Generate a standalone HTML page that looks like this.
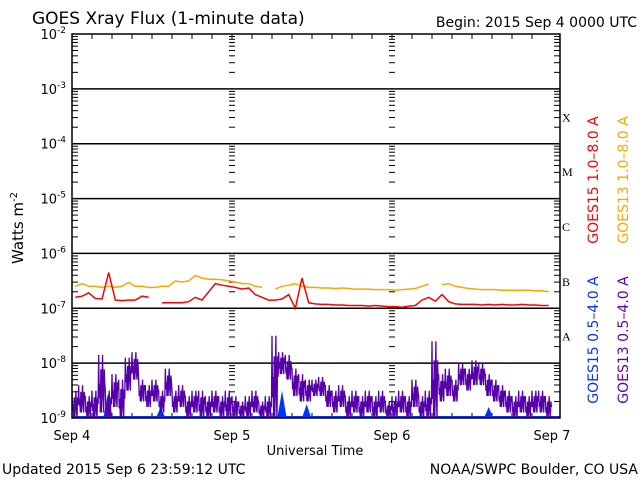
<!DOCTYPE html>
<html><head><meta charset="utf-8"><style>
html,body{margin:0;padding:0;background:#fff;}
svg{display:block;font-family:"DejaVu Sans","Liberation Sans",sans-serif;}
</style></head><body>
<svg id="chart" width="640" height="480" viewBox="0 0 640 480" xmlns="http://www.w3.org/2000/svg">
<rect width="640" height="480" fill="#fff"/>
<text x="32" y="24" font-size="17">GOES Xray Flux (1-minute data)</text>
<text x="637" y="27" font-size="14" text-anchor="end">Begin:  2015 Sep 4 0000 UTC</text>
<text transform="translate(23,228) rotate(-90)" font-size="15" text-anchor="middle">Watts m<tspan font-size="10" dy="-6">-2</tspan></text>
<text x="315" y="455" font-size="13" text-anchor="middle">Universal Time</text>
<text x="2" y="474" font-size="14">Updated 2015 Sep  6 23:59:12 UTC</text>
<text x="638" y="474" font-size="14" text-anchor="end">NOAA/SWPC Boulder, CO USA</text>
<text transform="translate(598,180) rotate(-90)" font-size="14" fill="#ff0000" text-anchor="middle">GOES15 1.0–8.0 A</text>
<text transform="translate(628,180) rotate(-90)" font-size="14" fill="#ffa500" text-anchor="middle">GOES13 1.0–8.0 A</text>
<text transform="translate(598,340) rotate(-90)" font-size="14" fill="#0033ff" text-anchor="middle">GOES15 0.5–4.0 A</text>
<text transform="translate(628,340) rotate(-90)" font-size="14" fill="#6600aa" text-anchor="middle">GOES13 0.5–4.0 A</text>
<g id="g"></g>
</svg>
<script>
const dayLabels=["Sep 4","Sep 5","Sep 6","Sep 7"];
const decadeExps=[-2,-3,-4,-5,-6,-7,-8,-9];
const classLabels=["X","M","C","B","A"];
const classExps=[-3.5,-4.5,-5.5,-6.5,-7.5];
// hourly log10 flux, GOES13 long (orange); null = gap
const g13Long=[-6.6,-6.55,-6.6,-6.6,-6.62,-6.6,-6.62,-6.6,-6.53,-6.6,-6.6,-6.62,-6.62,-6.6,-6.6,-6.5,-6.52,-6.5,-6.4,-6.45,-6.47,-6.47,-6.48,-6.5,-6.52,-6.55,-6.55,-6.6,-6.62,null,-6.65,-6.6,-6.58,-6.55,-6.6,-6.62,-6.62,-6.63,-6.63,-6.64,-6.63,-6.64,-6.65,-6.65,-6.65,-6.66,-6.66,-6.66,-6.67,-6.66,-6.65,-6.64,-6.6,-6.56,null,-6.57,-6.55,-6.6,-6.62,-6.64,-6.65,-6.66,-6.66,-6.66,-6.67,-6.67,-6.67,-6.67,-6.67,-6.68,-6.68,-6.7];
// hourly log10 flux, GOES15 long (red)
const g15Long=[-6.8,-6.78,-6.72,-6.82,-6.83,-6.35,-6.85,-6.86,-6.85,-6.85,-6.78,-6.8,null,-6.9,-6.9,-6.9,-6.9,-6.88,-6.8,-6.85,-6.7,-6.55,-6.58,-6.6,-6.62,-6.65,-6.63,-6.75,-6.8,-6.85,-6.85,-6.83,-6.75,-7.0,-6.45,-6.9,-6.92,-6.93,-6.93,-6.94,-6.94,-6.95,-6.95,-6.95,-6.96,-6.95,-6.96,-6.97,-6.97,-6.98,-6.96,-6.95,-6.85,-6.8,-6.87,-6.75,-6.88,-6.92,-6.93,-6.93,-6.93,-6.94,-6.93,-6.94,-6.93,-6.94,-6.94,-6.93,-6.94,-6.94,-6.95,-6.95];
// hourly high/low log10 flux, GOES13 short (purple)
const g13ShortHi=[-8.5,-8.4,-8.6,-8.5,-7.85,-8.5,-8.2,-8.3,-7.9,-7.8,-8.3,-8.4,-8.3,-8.5,-8.1,-8.5,-8.4,-8.6,-8.5,-8.5,-8.6,-8.5,-8.6,-8.5,-8.6,-8.7,-8.6,-8.5,-8.7,-8.6,-7.5,-7.8,-7.85,-8.1,-8.2,-8.3,-8.3,-8.25,-8.4,-8.5,-8.4,-8.6,-8.5,-8.6,-8.5,-8.6,-8.5,-8.7,-8.6,-8.5,-8.6,-8.3,-8.6,-8.5,-7.6,-8.2,-8.1,-8.3,-8.0,-8.1,-7.95,-8.0,-8.2,-8.3,-8.4,-8.5,-8.6,-8.5,-8.6,-8.5,-8.5,-8.6];
const g13ShortLo=[-9,-8.9,-9,-9,-8.9,-9,-8.8,-9,-8.5,-8.3,-8.7,-8.8,-8.7,-8.9,-8.6,-8.9,-8.8,-9,-8.9,-9,-9,-8.9,-9,-9,-9,-9,-9,-8.9,-9,-9,-9,-8.2,-8.3,-8.6,-8.7,-8.7,-8.6,-8.6,-8.8,-8.9,-8.8,-9,-8.9,-9,-8.9,-9,-8.9,-9,-9,-8.9,-9,-8.8,-9,-9,-9,-8.7,-8.6,-8.7,-8.4,-8.5,-8.4,-8.4,-8.6,-8.7,-8.8,-8.9,-9,-8.9,-9,-8.9,-8.9,-9];
// GOES15 short bumps above floor: [hour, peak log10 flux]
const g15ShortHours=[5.4,13.3,31.5,35.2,62.5];
const g15ShortPeaks=[-8.55,-8.8,-8.5,-8.75,-8.8];

const L=72,R=560,T=34,B=418,PX=160/24;
const x=h=>L+h*PX;
const y=e=>B-(e+9)*((B-T)/7);
const g=document.getElementById('g');
const NS="http://www.w3.org/2000/svg";
function mk(t,a,p){const e=document.createElementNS(NS,t);for(const k in a)e.setAttribute(k,a[k]);(p||g).appendChild(e);return e;}

decadeExps.forEach(d=>{
  if(d>-9&&d<-2){const ln=mk('line',{x1:L,x2:R,y1:y(d),y2:y(d),stroke:'#000','stroke-width':1.5});
  
  }
  const t=mk('text',{x:66,y:y(d)+5,'font-size':13,'text-anchor':'end'});
  
  
  t.textContent='10';
  const s=mk('tspan',{dy:-6,'font-size':9},t);s.textContent=String(d);
});
for(let d=-9;d<-2;d++){for(let m=2;m<=9;m++){const yy=y(d+Math.log10(m));
  [[L,L+6],[R-6,R],[x(24)-3,x(24)+3],[x(48)-3,x(48)+3]].forEach(p=>mk('line',{x1:p[0],x2:p[1],y1:yy,y2:yy,stroke:'#000','stroke-width':1}));}}
for(let h=3;h<72;h+=3){mk('line',{x1:x(h),x2:x(h),y1:T,y2:T+5,stroke:'#000'});mk('line',{x1:x(h),x2:x(h),y1:B,y2:B-5,stroke:'#000'});}
dayLabels.forEach((s,i)=>{const t=mk('text',{x:x(i*24),y:440,'font-size':13,'text-anchor':'middle'});
  
  
  t.textContent=s;});
classLabels.forEach((s,i)=>{const t=mk('text',{x:R+2,y:y(classExps[i])+5,'font-size':12,'font-family':'Liberation Serif, serif'});
  
  
  t.textContent=s;});

function series(arr,col,name){let pts=[];const flush=()=>{if(pts.length>1){const p=mk('polyline',{points:pts.join(' '),fill:'none',stroke:col,'stroke-width':1.5});
  
  }pts=[];};
  arr.forEach((v,i)=>{if(v===null){flush();return;}pts.push(x(i+0.5).toFixed(1)+','+y(v).toFixed(1));});flush();}

const floor=mk('line',{x1:L,x2:R,y1:B-1,y2:B-1,stroke:'#0033ff','stroke-width':2});


g15ShortHours.forEach((h,i)=>{const p=mk('polygon',{points:`${x(h-0.7)},${B} ${x(h)},${y(g15ShortPeaks[i])} ${x(h+0.7)},${B}`,fill:'#0033ff'});
  
  });
// dense zigzag between hourly hi/lo
let sp=[];g13ShortHi.forEach((hi,i)=>{const lo=g13ShortLo[i];const mid=(hi+lo)/2,q1=(3*hi+lo)/4,q3=(hi+3*lo)/4;
  [hi,q3,mid,lo,q1,lo,mid,hi,q3,lo,q1,mid].forEach((v,k)=>sp.push(x(i+k/12).toFixed(2)+','+y(Math.max(v,-9)).toFixed(1)));});
const ps=mk('polyline',{points:sp.join(' '),fill:'none',stroke:'#5500aa','stroke-width':1.3});


series(g13Long,'#ffa500','goes13-long-series');
series(g15Long,'#ff0000','goes15-long-series');
const fr=mk('rect',{x:L,y:T,width:R-L,height:B-T,fill:'none',stroke:'#000','stroke-width':1.5});


</script>
</body></html>
